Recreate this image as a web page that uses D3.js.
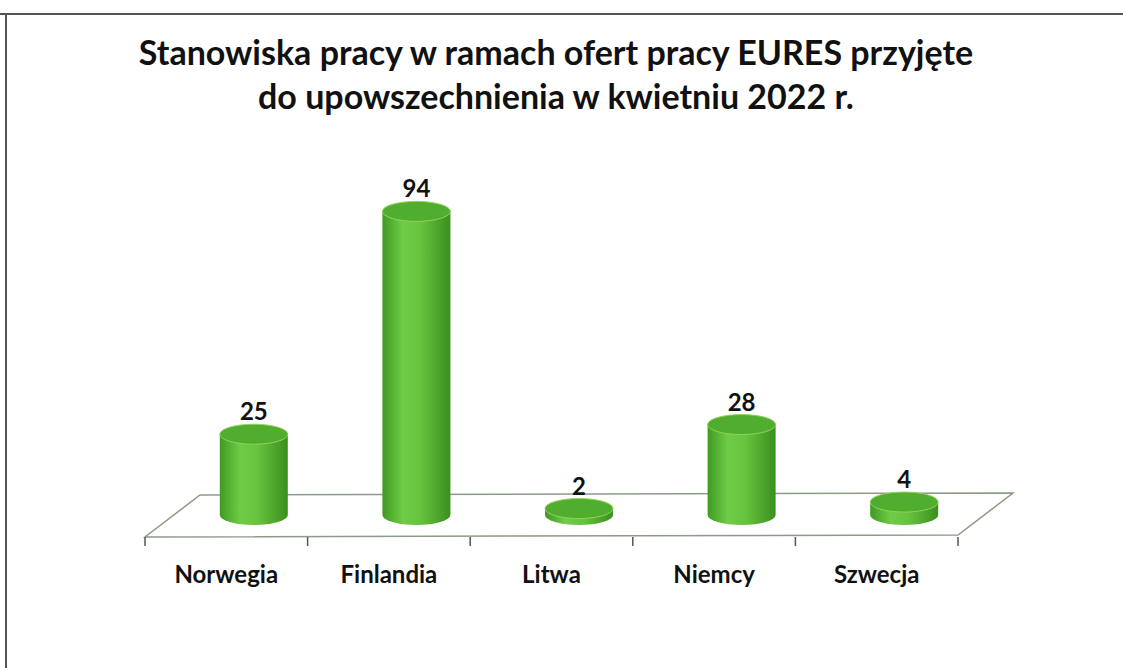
<!DOCTYPE html>
<html>
<head>
<meta charset="utf-8">
<script src="https://cdn.jsdelivr.net/npm/d3@7"></script>
<style>
  body { margin: 0; background: #fff; }
  svg { display: block; font-family: Lato, "Open Sans", sans-serif; }
</style>
</head>
<body>
<div id="chart-area"></div>
<script>
var categories = ["Norwegia", "Finlandia", "Litwa", "Niemcy", "Szwecja"];
var values = [25, 94, 2, 28, 4];
var titleLines = ["Stanowiska pracy w ramach ofert pracy EURES przyjęte",
                  "do upowszechnienia w kwietniu 2022 r."];

var W = 1123, H = 668;

var svg = d3.select("#chart-area")
    .append("svg")
        .attr("width", W)
        .attr("height", H);

var defs = svg.append("defs");
var side = defs.append("linearGradient")
    .attr("id", "side").attr("x1", "0").attr("x2", "1").attr("y1", "0").attr("y2", "0");
side.append("stop").attr("offset", "0%").attr("stop-color", "#3f9a22");
side.append("stop").attr("offset", "30%").attr("stop-color", "#6fcc46");
side.append("stop").attr("offset", "55%").attr("stop-color", "#68c43f");
side.append("stop").attr("offset", "100%").attr("stop-color", "#3b8f1e");

// frame of the scanned page
svg.append("line")
    .attr("x1", 0).attr("x2", W).attr("y1", 14).attr("y2", 14)
    .attr("stroke", "#555").attr("stroke-width", 2);
svg.append("line")
    .attr("x1", 6).attr("x2", 6).attr("y1", 14).attr("y2", H)
    .attr("stroke", "#555").attr("stroke-width", 2);

// Title
svg.selectAll("text.title")
    .data(titleLines)
    .enter().append("text")
        .attr("class", "title")
        .attr("x", 556)
        .attr("y", function(d, i){ return 65 + i * 44; })
        .attr("text-anchor", "middle")
        .attr("font-size", "34px")
        .attr("font-weight", "bold")
        .attr("fill", "#111")
        .text(function(d){ return d; });

// floor geometry
var front = 537, depthX = 55, depthY = -42;

var x = d3.scaleBand()
    .domain(categories)
    .range([145, 958]);

var h = d3.scaleLinear()
    .domain([0, 100])
    .range([0, 323]);

var x0 = x.range()[0], x1 = x.range()[1];
svg.append("path")
    .attr("d", "M" + x0 + "," + front + "L" + x1 + "," + (front - 2) +
        "L" + (x1 + depthX) + "," + (front - 2 + depthY) +
        "L" + (x0 + depthX) + "," + (front + depthY) + "Z")
    .attr("fill", "#fff")
    .attr("stroke", "#8c9a86")
    .attr("stroke-width", 1.5);

// tick marks at band edges
var edges = categories.map(function(c){ return x(c); }).concat([x1]);
svg.selectAll("line.tick")
    .data(edges)
    .enter().append("line")
        .attr("class", "tick")
        .attr("x1", function(d){ return d; })
        .attr("x2", function(d){ return d; })
        .attr("y1", front)
        .attr("y2", front + 9)
        .attr("stroke", "#555")
        .attr("stroke-width", 1.5);

// cylinders
var rx = 34, ry = 10;
var base = front + depthY / 2 - 1;
function cx(d, i){ return x(categories[i]) + x.bandwidth() / 2 + depthX / 2; }

var bars = svg.selectAll("g.bar")
    .data(values)
    .enter().append("g")
        .attr("class", "bar");

bars.append("path")
    .attr("d", function(d, i){
        var c = cx(d, i), top = base - h(d);
        return "M" + (c - rx) + "," + top + "L" + (c - rx) + "," + base +
            "A" + rx + "," + ry + " 0 0 0 " + (c + rx) + "," + base +
            "L" + (c + rx) + "," + top + "Z";
    })
    .attr("fill", "url(#side)");

bars.append("ellipse")
    .attr("cx", cx)
    .attr("cy", function(d){ return base - h(d); })
    .attr("rx", rx)
    .attr("ry", ry)
    .attr("fill", "#50ad2d")
    .attr("stroke", "#8fd35c")
    .attr("stroke-width", 1);

// value labels
bars.append("text")
    .attr("x", cx)
    .attr("y", function(d){ return base - h(d) - ry - 4; })
    .attr("text-anchor", "middle")
    .attr("font-size", "24px")
    .attr("font-weight", "bold")
    .attr("fill", "#111")
    .text(function(d){ return d; });

// category labels
var xAxis = d3.axisBottom(x).tickSize(0).tickPadding(0);
var xAxisGroup = svg.append("g")
    .attr("transform", "translate(0," + 566 + ")")
    .call(xAxis);
xAxisGroup.select(".domain").remove();
xAxisGroup.selectAll("text")
    .attr("dy", "0.71em")
    .attr("font-family", "Lato, 'Open Sans', sans-serif")
    .attr("font-size", "24px")
    .attr("font-weight", "bold")
    .attr("fill", "#111");
</script>
</body>
</html>
